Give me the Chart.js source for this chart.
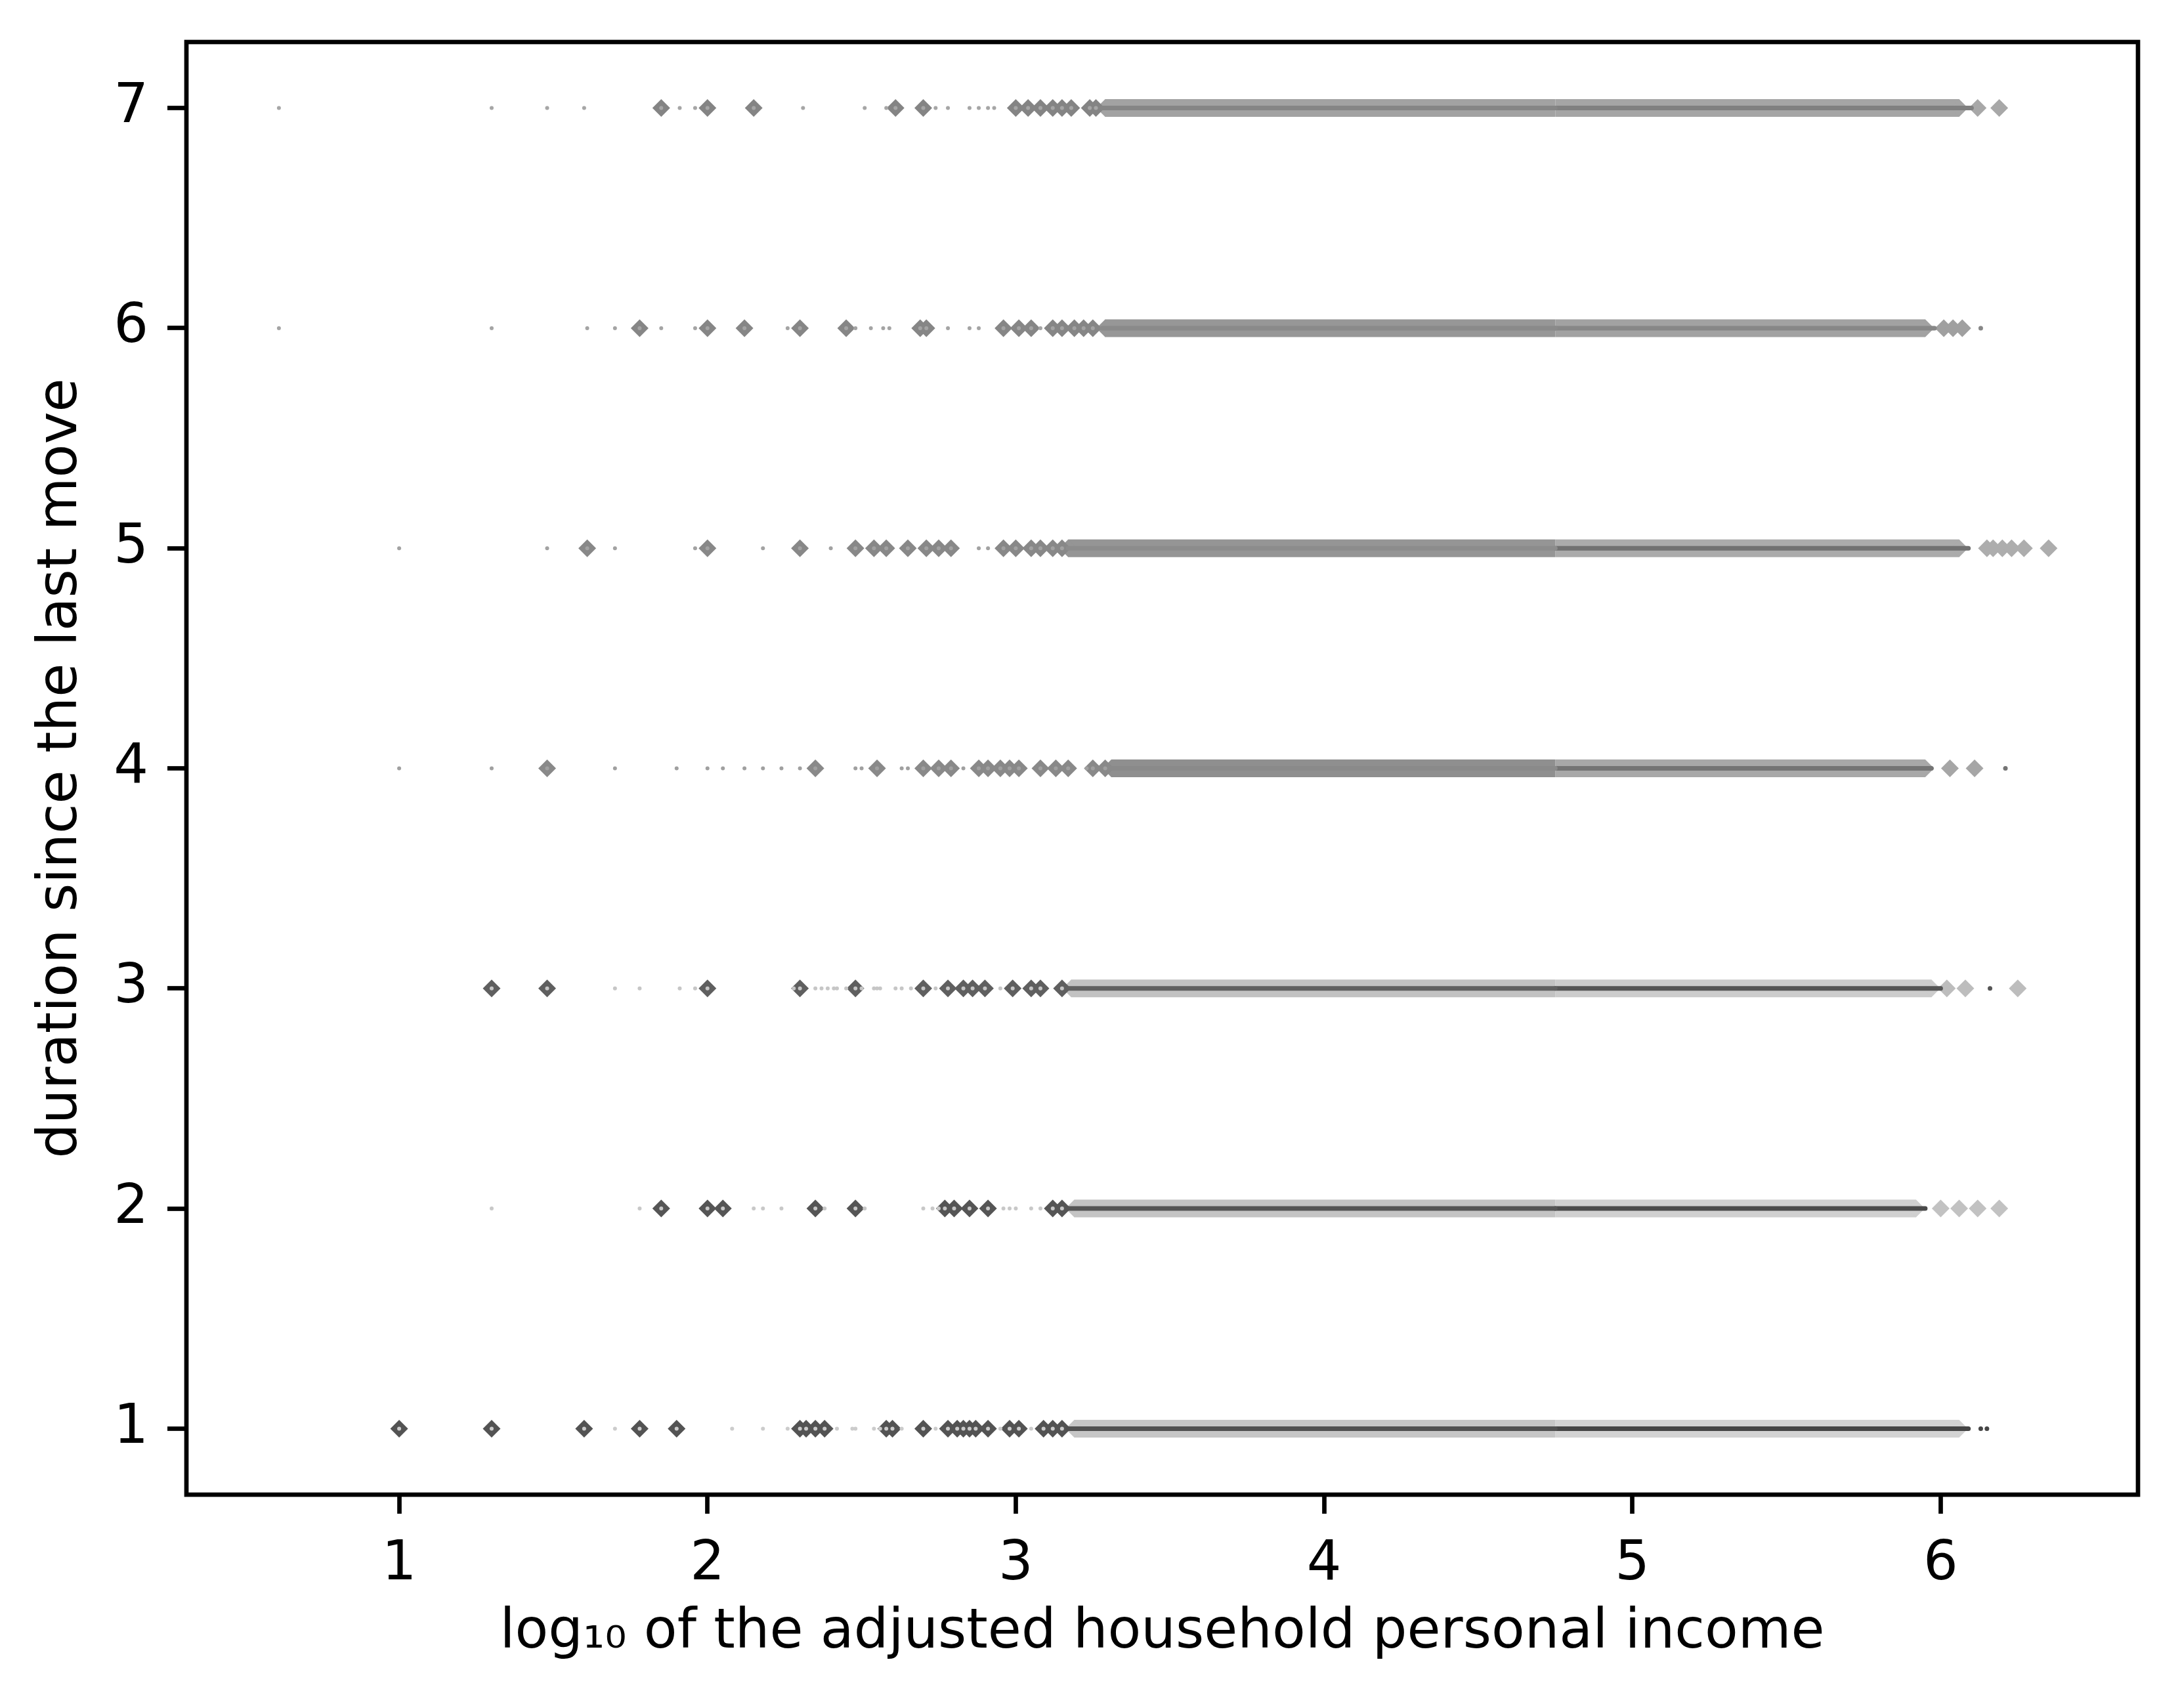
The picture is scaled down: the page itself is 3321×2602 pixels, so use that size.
<!DOCTYPE html>
<html><head><meta charset="utf-8">
<script src="https://cdn.jsdelivr.net/npm/chart.js@4.4.1/dist/chart.umd.min.js"></script>
<style>html,body{margin:0;padding:0;background:#fff}</style>
</head><body>
<canvas id="c" width="3321" height="2602"></canvas>
<script>
// ---------- data ----------
const durations = [1, 2, 3, 4, 5, 6, 7];
const xTicks = [1, 2, 3, 4, 5, 6];
const yTicks = [1, 2, 3, 4, 5, 6, 7];

// duration 1
const diamonds1 = [1.00, 1.30, 1.60, 1.78, 1.90, 2.30, 2.32, 2.35, 2.38, 2.58, 2.60, 2.70, 2.78, 2.81, 2.83, 2.85, 2.87, 2.91, 2.98, 3.01, 3.09, 3.12, 3.15];
const dots1 = [1.70, 2.08, 2.18, 2.26, 2.42, 2.47, 2.48, 2.54, 2.56, 2.63, 2.74, 2.95, 3.05];
const band1 = [3.19, 4.75, 6.06];
const line1 = [3.17, 4.75, 6.09];
const outerDiamonds1 = [];
const outerDots1 = [6.13, 6.15];

// duration 2
const diamonds2 = [1.85, 2.00, 2.05, 2.35, 2.48, 2.77, 2.80, 2.85, 2.91, 3.12, 3.15];
const dots2 = [1.30, 1.78, 2.15, 2.18, 2.24, 2.38, 2.51, 2.70, 2.73, 2.75, 2.96, 2.98, 3.00, 3.05, 3.08];
const band2 = [3.19, 4.75, 5.92];
const line2 = [3.17, 4.75, 5.95];
const outerDiamonds2 = [6.00, 6.06, 6.12, 6.19];
const outerDots2 = [];

// duration 3
const diamonds3 = [1.30, 1.48, 2.00, 2.30, 2.48, 2.70, 2.78, 2.83, 2.86, 2.90, 2.99, 3.05, 3.08, 3.15];
const dots3 = [1.70, 1.78, 1.91, 1.96, 2.28, 2.35, 2.37, 2.39, 2.41, 2.42, 2.45, 2.50, 2.54, 2.55, 2.56, 2.61, 2.63, 2.66, 2.74, 2.95];
const band3 = [3.18, 4.75, 5.97];
const line3 = [3.17, 4.75, 6.00];
const outerDiamonds3 = [6.02, 6.08, 6.25];
const outerDots3 = [6.16];

// duration 4
const diamonds4 = [1.48, 2.35, 2.55, 2.70, 2.75, 2.79, 2.88, 2.91, 2.95, 2.98, 3.01, 3.08, 3.13, 3.17, 3.25, 3.29];
const dots4 = [1.00, 1.30, 1.70, 1.90, 2.00, 2.05, 2.12, 2.18, 2.24, 2.30, 2.48, 2.50, 2.63, 2.65, 2.83, 3.23];
const band4 = [3.31, 4.75, 5.95];
const line4 = [3.30, 4.75, 5.97];
const outerDiamonds4 = [6.03, 6.11];
const outerDots4 = [6.21];

// duration 5
const diamonds5 = [1.61, 2.00, 2.30, 2.48, 2.54, 2.58, 2.65, 2.71, 2.75, 2.79, 2.96, 3.00, 3.05, 3.08, 3.12, 3.15];
const dots5 = [1.00, 1.48, 1.70, 1.96, 2.18, 2.40, 2.88, 2.91];
const band5 = [3.17, 4.75, 6.06];
const line5 = [3.17, 4.75, 6.09];
const outerDiamonds5 = [6.15, 6.17, 6.20, 6.23, 6.27, 6.35];
const outerDots5 = [];

// duration 6
const diamonds6 = [1.78, 2.00, 2.12, 2.30, 2.45, 2.69, 2.71, 2.96, 3.01, 3.05, 3.12, 3.15, 3.19, 3.22, 3.25];
const dots6 = [0.61, 1.30, 1.61, 1.70, 1.85, 1.96, 2.26, 2.48, 2.53, 2.57, 2.59, 2.78, 2.85, 2.88, 3.08];
const band6 = [3.29, 4.75, 5.95];
const line6 = [3.28, 4.75, 5.98];
const outerDiamonds6 = [6.01, 6.04, 6.07];
const outerDots6 = [6.13];

// duration 7
const diamonds7 = [1.85, 2.00, 2.15, 2.61, 2.70, 3.00, 3.04, 3.08, 3.12, 3.15, 3.18, 3.24, 3.26];
const dots7 = [0.61, 1.30, 1.48, 1.60, 1.91, 1.96, 2.31, 2.51, 2.58, 2.74, 2.78, 2.85, 2.88, 2.91, 2.93];
const band7 = [3.29, 4.75, 6.06];
const line7 = [3.28, 4.75, 6.10];
const outerDiamonds7 = [6.12, 6.19];
const outerDots7 = [];

// ---------- styles ----------
const styles = {
  1: {dia:'#535353', dot:'#cccccc', bandL:'#c6c6c6', bandR:'#d3d3d3', lineL:'#505050', lineR:'#454545', outer:'#c9c9c9'},
  2: {dia:'#555555', dot:'#c8c8c8', bandL:'#c4c4c4', bandR:'#d0d0d0', lineL:'#555555', lineR:'#4a4a4a', outer:'#c2c2c2'},
  3: {dia:'#5f5f5f', dot:'#c6c6c6', bandL:'#c2c2c2', bandR:'#cccccc', lineL:'#606060', lineR:'#555555', outer:'#bdbdbd'},
  4: {dia:'#898989', dot:'#a0a0a0', bandL:'#8f8f8f', bandR:'#a8a8a8', lineL:'#8a8a8a', lineR:'#747474', outer:'#a6a6a6'},
  5: {dia:'#888888', dot:'#a2a2a2', bandL:'#959595', bandR:'#ababab', lineL:'#8c8c8c', lineR:'#717171', outer:'#adadad'},
  6: {dia:'#868686', dot:'#a4a4a4', bandL:'#979797', bandR:'#a2a2a2', lineL:'#8a8a8a', lineR:'#878787', outer:'#a0a0a0'},
  7: {dia:'#848484', dot:'#a6a6a6', bandL:'#a2a2a2', bandR:'#a5a5a5', lineL:'#858585', lineR:'#808080', outer:'#a8a8a8'}
};

const rowData = {
  1: [diamonds1, dots1, band1, line1, outerDiamonds1, outerDots1],
  2: [diamonds2, dots2, band2, line2, outerDiamonds2, outerDots2],
  3: [diamonds3, dots3, band3, line3, outerDiamonds3, outerDots3],
  4: [diamonds4, dots4, band4, line4, outerDiamonds4, outerDots4],
  5: [diamonds5, dots5, band5, line5, outerDiamonds5, outerDots5],
  6: [diamonds6, dots6, band6, line6, outerDiamonds6, outerDots6],
  7: [diamonds7, dots7, band7, line7, outerDiamonds7, outerDots7]
};

const DR = 13.5;   // diamond half-diagonal
const datasets = [];
const pts = (arr, y) => arr.map(x => ({x, y}));

durations.forEach(y => {
  const [dia, dots, band, line, oDia, oDots] = rowData[y];
  const s = styles[y];
  // dense band (overlapping diamonds)
  datasets.push({type:'line', data: pts([band[0], band[1]], y), borderColor: s.bandL, borderWidth: 2*DR, borderCapStyle:'butt',
    pointStyle:'rectRot', pointRadius: c => c.dataIndex === 0 ? DR : 0, pointBackgroundColor: s.bandL, pointBorderWidth: 0, order: 5});
  datasets.push({type:'line', data: pts([band[1], band[2]], y), borderColor: s.bandR, borderWidth: 2*DR, borderCapStyle:'butt',
    pointStyle:'rectRot', pointRadius: c => c.dataIndex === 1 ? DR : 0, pointBackgroundColor: s.bandR, pointBorderWidth: 0, order: 5});
  // sparse diamonds
  datasets.push({type:'scatter', data: pts(dia, y), pointStyle:'rectRot', pointRadius: DR, backgroundColor: s.dia, borderColor: s.dia, borderWidth: 0, order: 4});
  datasets.push({type:'scatter', data: pts(oDia, y), pointStyle:'rectRot', pointRadius: DR, backgroundColor: s.outer, borderColor: s.outer, borderWidth: 0, order: 4});
  // center line of overlapping dots
  datasets.push({type:'line', data: pts([line[0], line[1]], y), borderColor: s.lineL, borderWidth: 7, borderCapStyle:'round', pointRadius: 0, order: 3});
  datasets.push({type:'line', data: pts([line[1], line[2]], y), borderColor: s.lineR, borderWidth: 7, borderCapStyle:'round', pointRadius: 0, order: 3});
  // small dots
  datasets.push({type:'scatter', data: pts(dots.concat(dia), y), pointStyle:'circle', pointRadius: 3, backgroundColor: s.dot, borderWidth: 0, order: 2});
  datasets.push({type:'scatter', data: pts(oDots, y), pointStyle:'circle', pointRadius: 3.5, backgroundColor: s.lineR, borderWidth: 0, order: 2});
});

const frame = {
  id: 'frame',
  afterDatasetsDraw(chart) {
    const {ctx, chartArea: a} = chart;
    ctx.save();
    ctx.strokeStyle = '#000';
    ctx.lineWidth = 6.7;
    ctx.strokeRect(a.left, a.top, a.right - a.left, a.bottom - a.top);
    ctx.restore();
  }
};

const noPad = sc => { sc.paddingTop = 0; sc.paddingBottom = 0; sc.paddingLeft = 0; sc.paddingRight = 0; };

Chart.defaults.font.family = 'DejaVu Sans';
Chart.defaults.font.size = 83;
Chart.defaults.color = '#000';

new Chart(document.getElementById('c'), {
  type: 'scatter',
  data: { datasets },
  plugins: [frame],
  options: {
    responsive: false,
    animation: false,
    layout: { padding: { left: 0, top: 64, right: 64, bottom: 0 } },
    plugins: { legend: { display: false }, tooltip: { enabled: false } },
    scales: {
      x: {
        type: 'linear', min: 0.31, max: 6.64,
        afterBuildTicks: sc => { sc.ticks = xTicks.map(v => ({value: v})); },
        afterFit: sc => { sc.height = 325; noPad(sc); },
        ticks: { padding: 29, maxRotation: 0, font: { size: 83 }, color: '#000' },
        grid: { display: true, drawOnChartArea: false, drawTicks: true, tickLength: 29, tickWidth: 6.7, tickColor: '#000' },
        border: { display: false },
        title: { display: true, text: 'log\u2081\u2080 of the adjusted household personal income', color: '#000',
          font: { size: 83 }, padding: { top: 0, bottom: 64 } }
      },
      y: {
        type: 'linear', min: 0.7, max: 7.3,
        afterBuildTicks: sc => { sc.ticks = yTicks.map(v => ({value: v})); },
        afterFit: sc => { sc.width = 284; noPad(sc); },
        ticks: { padding: 29, font: { size: 83 }, color: '#000' },
        grid: { display: true, drawOnChartArea: false, drawTicks: true, tickLength: 29, tickWidth: 6.7, tickColor: '#000' },
        border: { display: false },
        title: { display: true, text: 'duration since the last move', color: '#000',
          font: { size: 83 }, padding: { top: 45, bottom: 0 } }
      }
    }
  }
});
</script>
</body></html>
